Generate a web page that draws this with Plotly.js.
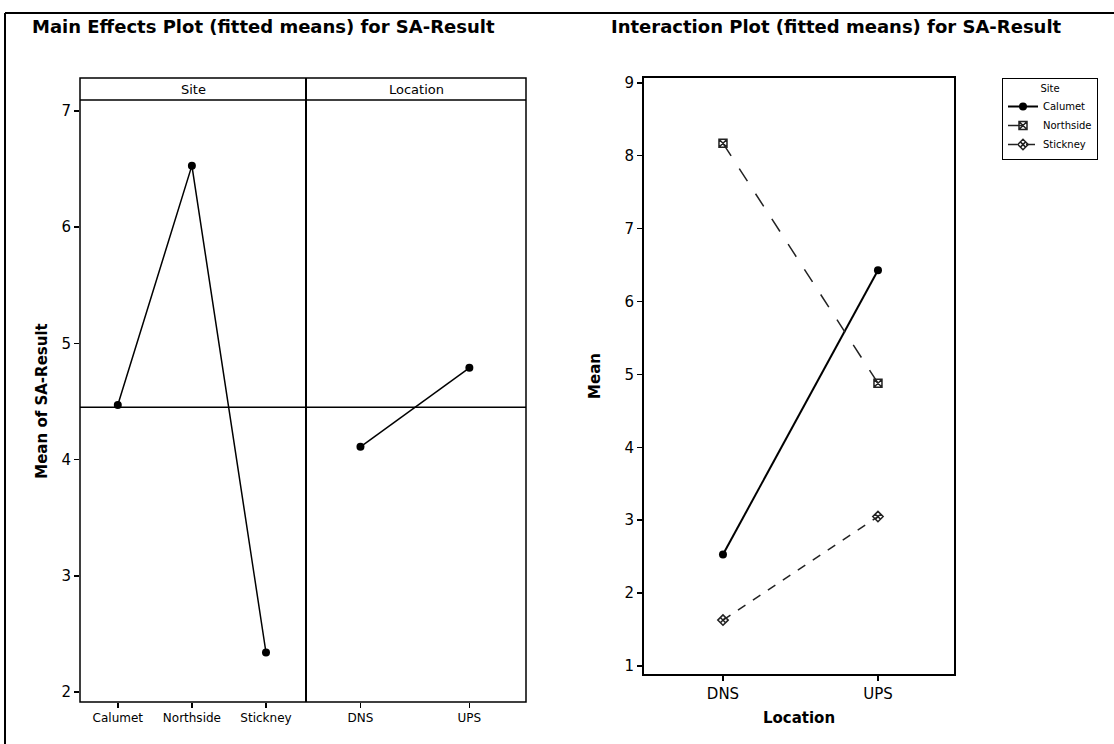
<!DOCTYPE html>
<html>
<head>
<meta charset="utf-8">
<script src="https://cdn.plot.ly/plotly-3.0.1.min.js"></script>
<style>html,body{margin:0;padding:0;background:#fff;}#chart{width:1114px;height:744px;}</style>
</head>
<body>
<div id="chart"></div>
<script>
// ---- data ----
var sites = ["Calumet", "Northside", "Stickney"];
var siteMeans = [4.47, 6.53, 2.34];
var locations = ["DNS", "UPS"];
var locationMeans = [4.11, 4.79];
var grandMean = 4.45;
var calumet = [2.53, 6.43];
var northside = [8.17, 4.88];
var stickney = [1.63, 3.05];

var W = 1114, H = 744;
function px(x){ return x / W; }
function py(y){ return 1 - y / H; }
var FONT = "DejaVu Sans, Verdana, sans-serif";

var traces = [
  {x: sites, y: siteMeans, xaxis: "x", yaxis: "y", mode: "lines+markers", showlegend: false,
   line: {color: "#000", width: 1.5}, marker: {symbol: "circle", size: 8, color: "#000"}},
  {x: locations, y: locationMeans, xaxis: "x2", yaxis: "y2", mode: "lines+markers", showlegend: false,
   line: {color: "#000", width: 1.5}, marker: {symbol: "circle", size: 8, color: "#000"}},
  {x: locations, y: calumet, xaxis: "x3", yaxis: "y3", mode: "lines+markers", name: "Calumet",
   line: {color: "#000", width: 2}, marker: {symbol: "circle", size: 8, color: "#000"}},
  {x: locations, y: northside, xaxis: "x3", yaxis: "y3", mode: "lines+markers", name: "Northside",
   line: {color: "#222", width: 1.5, dash: "longdash"}, marker: {symbol: "square-x-open", size: 8, color: "#222", line: {width: 1.5}}},
  {x: locations, y: stickney, xaxis: "x3", yaxis: "y3", mode: "lines+markers", name: "Stickney",
   line: {color: "#222", width: 1.5, dash: "dash"}, marker: {symbol: "diamond-x-open", size: 8, color: "#222", line: {width: 1.5}}}
];

var tickFontL = {family: FONT, size: 15, color: "#000"};
var axBase = {showgrid: false, zeroline: false, ticks: "outside", ticklen: 5, tickcolor: "#000", tickwidth: 1.5, showline: false, fixedrange: true};

var layout = {
  width: W, height: H,
  margin: {l: 0, r: 0, t: 0, b: 0},
  paper_bgcolor: "#fff", plot_bgcolor: "#fff",
  font: {family: FONT, color: "#000"},
  xaxis: Object.assign({}, axBase, {domain: [px(80), px(306)], anchor: "y", type: "category",
    range: [-0.51, 2.54], tickfont: {family: FONT, size: 12, color: "#000"}}),
  xaxis2: Object.assign({}, axBase, {domain: [px(306), px(526)], anchor: "y2", type: "category",
    range: [-0.5, 1.52], tickfont: {family: FONT, size: 12, color: "#000"}}),
  yaxis: Object.assign({}, axBase, {domain: [py(702), py(100)], anchor: "x", range: [1.914, 7.095],
    dtick: 1, tickfont: tickFontL,
    title: {text: "<b>Mean of SA-Result</b>", font: {family: FONT, size: 15, color: "#000"}, standoff: 10}}),
  yaxis2: Object.assign({}, axBase, {domain: [py(702), py(100)], anchor: "x2", range: [1.914, 7.095],
    showticklabels: false, ticks: ""}),
  xaxis3: Object.assign({}, axBase, {domain: [px(643), px(955)], anchor: "y3", type: "category",
    range: [-0.516, 1.497], tickfont: {family: FONT, size: 15, color: "#000"},
    title: {text: "<b>Location</b>", font: {family: FONT, size: 15, color: "#000"}, standoff: 10}}),
  yaxis3: Object.assign({}, axBase, {domain: [py(675), py(77)], anchor: "x3", range: [0.877, 9.08],
    dtick: 1, tickfont: tickFontL,
    title: {text: "<b>Mean</b>", font: {family: FONT, size: 15, color: "#000"}, standoff: 20}}),
  legend: {x: px(1002), y: py(78), xanchor: "left", yanchor: "top", bgcolor: "#fff",
    bordercolor: "#000", borderwidth: 1, font: {family: FONT, size: 10, color: "#000"},
    title: {text: "Site", side: "top center", font: {family: FONT, size: 10, color: "#000"}},
    itemwidth: 30, tracegroupgap: 0},
  shapes: [
    // outer frame (top, left)
    {type: "line", xref: "paper", yref: "paper", x0: px(5), x1: px(1114), y0: py(13), y1: py(13), line: {color: "#000", width: 2}},
    {type: "line", xref: "paper", yref: "paper", x0: px(5), x1: px(5), y0: py(13), y1: py(744), line: {color: "#000", width: 2}},
    // left panel frame incl. strip
    {type: "rect", xref: "paper", yref: "paper", x0: px(80), x1: px(526), y0: py(702), y1: py(78), line: {color: "#000", width: 1.5}},
    {type: "line", xref: "paper", yref: "paper", x0: px(80), x1: px(526), y0: py(100), y1: py(100), line: {color: "#000", width: 1.5}},
    {type: "line", xref: "paper", yref: "paper", x0: px(306), x1: px(306), y0: py(702), y1: py(78), line: {color: "#000", width: 2}},
    // grand mean reference line
    {type: "line", xref: "paper", yref: "y", x0: px(80), x1: px(526), y0: grandMean, y1: grandMean, line: {color: "#000", width: 1.5}},
    // right panel frame
    {type: "rect", xref: "paper", yref: "paper", x0: px(643), x1: px(955), y0: py(675), y1: py(77), line: {color: "#000", width: 2}}
  ],
  annotations: [
    {text: "<b>Main Effects Plot (fitted means) for SA-Result</b>", xref: "paper", yref: "paper",
     x: px(263), y: py(27), xanchor: "center", yanchor: "middle", showarrow: false, font: {family: FONT, size: 18, color: "#000"}},
    {text: "<b>Interaction Plot (fitted means) for SA-Result</b>", xref: "paper", yref: "paper",
     x: px(836), y: py(27), xanchor: "center", yanchor: "middle", showarrow: false, font: {family: FONT, size: 18, color: "#000"}},
    {text: "Site", xref: "paper", yref: "paper", x: px(193), y: py(89), xanchor: "center", yanchor: "middle",
     showarrow: false, font: {family: FONT, size: 13, color: "#000"}},
    {text: "Location", xref: "paper", yref: "paper", x: px(416), y: py(89), xanchor: "center", yanchor: "middle",
     showarrow: false, font: {family: FONT, size: 13, color: "#000"}}
  ]
};

Plotly.newPlot("chart", traces, layout, {displayModeBar: false, staticPlot: true});
</script>
</body>
</html>
